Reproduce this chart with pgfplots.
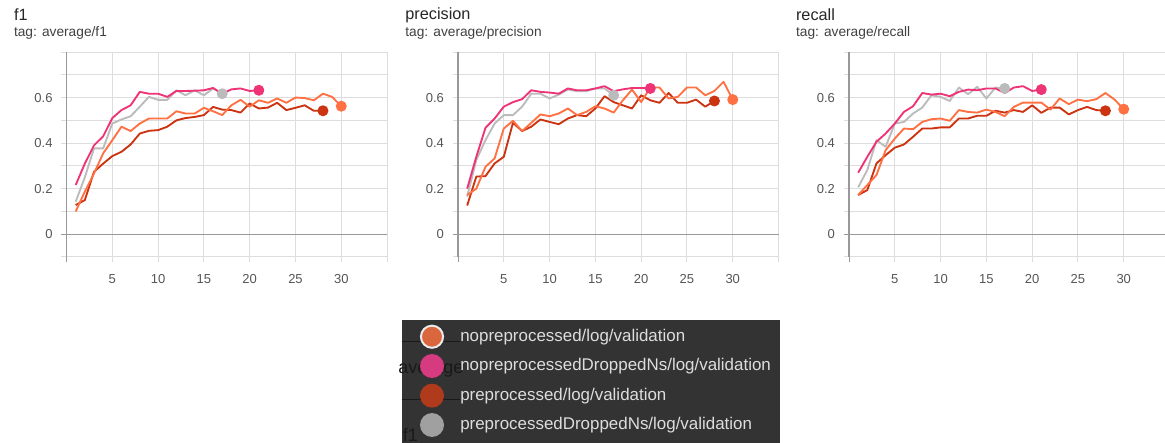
\documentclass[border=0pt]{standalone}
\usepackage{pgfplots}
\pgfplotsset{compat=1.18}
\usepackage{fontspec}
\setmainfont{Liberation Sans}
\definecolor{tbOrange}{HTML}{FF7043}
\definecolor{tbPink}{HTML}{EE3377}
\definecolor{tbRed}{HTML}{CC3311}
\definecolor{tbGray}{HTML}{BBBBBB}
\definecolor{gridc}{HTML}{DDDDDD}
\definecolor{axc}{HTML}{999999}
\definecolor{labc}{HTML}{555555}
\definecolor{boxc}{HTML}{333333}
\definecolor{lgOrange}{HTML}{D9663C}
\definecolor{lgPink}{HTML}{D63A7F}
\definecolor{lgRed}{HTML}{B03A1C}
\definecolor{lgGray}{HTML}{A0A0A0}
\definecolor{lgText}{HTML}{DDDDDD}
\pgfplotsset{
  tbaxis/.style={
    scale only axis, width=240.4pt, height=153.75pt,
    xmin=0, xmax=35, ymin=-0.1, ymax=0.8,
    axis line style={draw=none},
    xtick={0,5,10,15,20,25,30,35},
    xticklabels={,5,10,15,20,25,30,},
    ytick={-0.1,0,0.1,0.2,0.3,0.4,0.5,0.6,0.7,0.8},
    yticklabels={,0,,0.2,,0.4,,0.6,,},
    xtick pos=bottom, ytick pos=left,
    tick align=outside, major tick length=4pt,
    tick style={draw=gridc, line width=0.75pt},
    grid=major, major grid style={draw=gridc, line width=0.75pt},
    extra x ticks={0}, extra x tick labels={},
    extra y ticks={0}, extra y tick labels={},
    extra x tick style={major grid style={draw=axc, line width=0.9pt}, major tick style={draw=axc}},
    extra y tick style={major grid style={draw=axc, line width=0.9pt}, major tick style={draw=axc}},
    ticklabel style={font=\fontsize{9.75}{11}\selectfont, text=labc},
    yticklabel style={xshift=-3pt},
    xticklabel style={yshift=-5.5pt},
    clip=false,
    every axis plot/.append style={line width=1.4pt, mark size=3.4pt, line join=round},
  },
}
\begin{document}
\begin{tikzpicture}
\useasboundingbox (0,0) rectangle (873.75pt,332.25pt);
% ---------- f1 ----------
\node[anchor=west, font=\fontsize{12.2}{13}\selectfont, text=black!85] at (7pt,321pt) {f1};
\node[anchor=west, font=\fontsize{10.3}{12}\selectfont, text=black!75] at (7pt,307.5pt) {tag: average/f1};
\begin{axis}[tbaxis, at={(49.9pt,139.5pt)}]
\addplot[color=tbGray, mark=*, mark indices={17}] coordinates {(1,0.143)(2,0.25)(3,0.377)(4,0.377)(5,0.486)(6,0.504)(7,0.518)(8,0.56)(9,0.603)(10,0.59)(11,0.59)(12,0.632)(13,0.61)(14,0.632)(15,0.61)(16,0.64)(17,0.617)};
\addplot[color=tbRed, mark=*, mark indices={28}] coordinates {(1,0.128)(2,0.15)(3,0.274)(4,0.31)(5,0.343)(6,0.362)(7,0.394)(8,0.442)(9,0.454)(10,0.457)(11,0.472)(12,0.50)(13,0.51)(14,0.515)(15,0.523)(16,0.559)(17,0.547)(18,0.545)(19,0.534)(20,0.574)(21,0.552)(22,0.556)(23,0.577)(24,0.545)(25,0.555)(26,0.566)(27,0.542)(28,0.542)};
\addplot[color=tbOrange, mark=*, mark indices={30}] coordinates {(1,0.10)(2,0.187)(3,0.267)(4,0.355)(5,0.413)(6,0.472)(7,0.453)(8,0.486)(9,0.508)(10,0.508)(11,0.508)(12,0.54)(13,0.53)(14,0.53)(15,0.555)(16,0.54)(17,0.523)(18,0.566)(19,0.59)(20,0.56)(21,0.588)(22,0.577)(23,0.596)(24,0.577)(25,0.60)(26,0.598)(27,0.588)(28,0.617)(29,0.603)(30,0.562)};
\addplot[color=tbPink, mark=*, mark indices={21}] coordinates {(1,0.216)(2,0.31)(3,0.39)(4,0.43)(5,0.51)(6,0.545)(7,0.566)(8,0.625)(9,0.617)(10,0.617)(11,0.603)(12,0.629)(13,0.629)(14,0.63)(15,0.632)(16,0.642)(17,0.617)(18,0.636)(19,0.64)(20,0.629)(21,0.632)};
\end{axis}
% ---------- precision ----------
\node[anchor=west, font=\fontsize{12.2}{13}\selectfont, text=black!85] at (300.5pt,321pt) {precision};
\node[anchor=west, font=\fontsize{10.3}{12}\selectfont, text=black!75] at (300.5pt,307.5pt) {tag: average/precision};
\begin{axis}[tbaxis, at={(343.5pt,139.5pt)}]
\addplot[color=tbGray, mark=*, mark indices={17}] coordinates {(1,0.165)(2,0.326)(3,0.413)(4,0.486)(5,0.523)(6,0.523)(7,0.56)(8,0.617)(9,0.617)(10,0.596)(11,0.613)(12,0.635)(13,0.628)(14,0.628)(15,0.64)(16,0.64)(17,0.61)};
\addplot[color=tbRed, mark=*, mark indices={28}] coordinates {(1,0.126)(2,0.253)(3,0.255)(4,0.311)(5,0.34)(6,0.489)(7,0.453)(8,0.472)(9,0.504)(10,0.493)(11,0.483)(12,0.508)(13,0.523)(14,0.518)(15,0.552)(16,0.606)(17,0.58)(18,0.566)(19,0.552)(20,0.61)(21,0.588)(22,0.577)(23,0.62)(24,0.577)(25,0.577)(26,0.591)(27,0.56)(28,0.585)};
\addplot[color=tbOrange, mark=*, mark indices={30}] coordinates {(1,0.172)(2,0.20)(3,0.296)(4,0.333)(5,0.464)(6,0.498)(7,0.453)(8,0.489)(9,0.526)(10,0.518)(11,0.53)(12,0.552)(13,0.523)(14,0.537)(15,0.562)(16,0.552)(17,0.534)(18,0.588)(19,0.635)(20,0.58)(21,0.644)(22,0.644)(23,0.596)(24,0.603)(25,0.644)(26,0.644)(27,0.61)(28,0.629)(29,0.669)(30,0.591)};
\addplot[color=tbPink, mark=*, mark indices={21}] coordinates {(1,0.20)(2,0.34)(3,0.467)(4,0.508)(5,0.56)(6,0.58)(7,0.593)(8,0.632)(9,0.625)(10,0.622)(11,0.617)(12,0.64)(13,0.632)(14,0.632)(15,0.64)(16,0.65)(17,0.628)(18,0.636)(19,0.642)(20,0.642)(21,0.64)};
\end{axis}
% ---------- recall ----------
\node[anchor=west, font=\fontsize{12.2}{13}\selectfont, text=black!85] at (593.5pt,321pt) {recall};
\node[anchor=west, font=\fontsize{10.3}{12}\selectfont, text=black!75] at (593.5pt,307.5pt) {tag: average/recall};
\begin{axis}[tbaxis, at={(636.75pt,139.5pt)}]
\addplot[color=tbGray, mark=*, mark indices={17}] coordinates {(1,0.206)(2,0.282)(3,0.413)(4,0.384)(5,0.486)(6,0.493)(7,0.53)(8,0.556)(9,0.61)(10,0.603)(11,0.585)(12,0.644)(13,0.615)(14,0.647)(15,0.596)(16,0.644)(17,0.64)};
\addplot[color=tbRed, mark=*, mark indices={28}] coordinates {(1,0.172)(2,0.194)(3,0.311)(4,0.347)(5,0.38)(6,0.394)(7,0.428)(8,0.464)(9,0.464)(10,0.469)(11,0.469)(12,0.508)(13,0.508)(14,0.52)(15,0.52)(16,0.542)(17,0.534)(18,0.545)(19,0.537)(20,0.566)(21,0.533)(22,0.556)(23,0.556)(24,0.526)(25,0.545)(26,0.559)(27,0.545)(28,0.542)};
\addplot[color=tbOrange, mark=*, mark indices={30}] coordinates {(1,0.172)(2,0.216)(3,0.26)(4,0.369)(5,0.42)(6,0.464)(7,0.461)(8,0.493)(9,0.505)(10,0.508)(11,0.498)(12,0.545)(13,0.537)(14,0.534)(15,0.547)(16,0.537)(17,0.518)(18,0.559)(19,0.578)(20,0.578)(21,0.578)(22,0.547)(23,0.596)(24,0.571)(25,0.591)(26,0.584)(27,0.593)(28,0.62)(29,0.591)(30,0.549)};
\addplot[color=tbPink, mark=*, mark indices={21}] coordinates {(1,0.27)(2,0.34)(3,0.406)(4,0.442)(5,0.486)(6,0.537)(7,0.562)(8,0.62)(9,0.613)(10,0.617)(11,0.606)(12,0.625)(13,0.635)(14,0.632)(15,0.64)(16,0.64)(17,0.62)(18,0.644)(19,0.65)(20,0.629)(21,0.635)};
\end{axis}
% ---------- legend overlay ----------
\fill[boxc] (301.3pt,0pt) rectangle (585pt,92.25pt);
\draw[color=black!90, line width=0.6pt] (301.3pt,76.5pt) -- (345pt,76.5pt);
\draw[color=black!90, line width=0.6pt] (301.3pt,33pt) -- (345pt,33pt);
\node[anchor=west, font=\fontsize{13.5}{15}\selectfont, text=black!90, inner sep=0pt] at (298.5pt,54.5pt) {average};
\node[anchor=base west, font=\fontsize{13.5}{15}\selectfont, text=black!90, inner sep=0pt] at (302pt,1pt) {f1};
\fill[lgOrange, draw=white!92!black, line width=1.5pt] (324pt,79.7pt) circle (8.3pt);
\fill[lgPink] (324pt,57.75pt) circle (9pt);
\fill[lgRed] (324pt,35.5pt) circle (9pt);
\fill[lgGray] (324pt,13.5pt) circle (9pt);
\begin{scope}[every node/.style={anchor=west, inner sep=0pt, font=\fontsize{12.7}{14}\selectfont, text=lgText}]
\node at (345pt,79.7pt) {nopreprocessed/log/validation};
\node at (345pt,57.75pt) {nopreprocessedDroppedNs/log/validation};
\node at (345pt,35.5pt) {preprocessed/log/validation};
\node at (345pt,13.5pt) {preprocessedDroppedNs/log/validation};
\end{scope}
\end{tikzpicture}
\end{document}
